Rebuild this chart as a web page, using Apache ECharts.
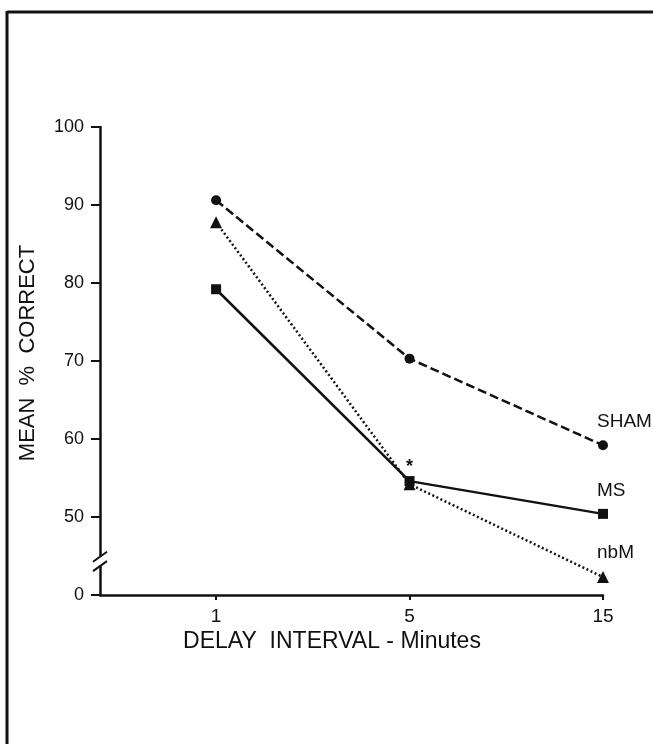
<!DOCTYPE html>
<html>
<head>
<meta charset="utf-8">
<script src="https://cdn.jsdelivr.net/npm/echarts@6/dist/echarts.min.js"></script>
<style>
  html, body { margin: 0; padding: 0; background: #fff; }
  #chart { width: 653px; height: 744px; }
</style>
</head>
<body>
<div id="chart"></div>
<script>
// delay intervals (minutes), plotted evenly spaced
const delays = ['1', '5', '15']
const groupNames = ['SHAM', 'MS', 'nbM']
// mean % correct per group
const shamValues = [90.6, 70.3, 59.2]
const msValues = [79.2, 54.6, 50.4]
const nbmValues = [87.8, 54.2, 42.3]
// y axis: broken between 0 and 40, bottom tick is labelled 0
const yTickValues = [40, 50, 60, 70, 80, 90, 100]
const yTickLabels = ['0', '50', '60', '70', '80', '90', '100']

const ink = '#111'
const font = '"Liberation Sans", Arial, sans-serif'

const chart = echarts.init(document.getElementById('chart'))

// last point gets the group name, MS at 5 min gets the asterisk
function makeData(values, name, starIndex) {
  return values.map((v, i) => {
    const item = { value: [i, v] }
    if (i === values.length - 1) {
      item.label = {
        show: true, formatter: name, position: 'top', align: 'left',
        offset: [-6, -4], fontSize: 19, color: ink, fontFamily: font
      }
    } else if (i === starIndex) {
      item.label = {
        show: true, formatter: '*', position: 'top', distance: 0,
        fontSize: 18, color: ink, fontFamily: font, fontWeight: 'bold'
      }
    }
    return item
  })
}

const option = {
  backgroundColor: '#fff',
  animation: false,
  grid: { left: 100, right: 50, top: 127, bottom: 149 },
  xAxis: {
    type: 'value',
    min: -0.6,
    max: 2,
    splitLine: { show: false },
    axisLine: { onZero: false, lineStyle: { color: ink, width: 2.5 } },
    axisTick: { customValues: [0, 1, 2], length: 5, lineStyle: { color: ink, width: 2 } },
    axisLabel: {
      customValues: [0, 1, 2], margin: 12, fontSize: 19, color: ink, fontFamily: font,
      formatter: v => delays[Math.round(v)]
    }
  },
  yAxis: {
    type: 'value',
    min: 40,
    max: 100,
    splitLine: { show: false },
    axisLine: { show: true, onZero: false, lineStyle: { color: ink, width: 2.5 } },
    axisTick: { customValues: yTickValues, length: 9, lineStyle: { color: ink, width: 2 } },
    axisLabel: {
      customValues: yTickValues, margin: 16, fontSize: 18, color: ink, fontFamily: font,
      formatter: v => yTickLabels[yTickValues.indexOf(v)]
    }
  },
  series: [
    {
      name: groupNames[0], type: 'line', data: makeData(shamValues, groupNames[0]),
      symbol: 'circle', symbolSize: 10,
      itemStyle: { color: ink },
      lineStyle: { color: ink, width: 2.5, type: [9, 4] }
    },
    {
      name: groupNames[1], type: 'line', data: makeData(msValues, groupNames[1], 1),
      symbol: 'rect', symbolSize: 10,
      itemStyle: { color: ink },
      lineStyle: { color: ink, width: 2.5 }
    },
    {
      name: groupNames[2], type: 'line', data: makeData(nbmValues, groupNames[2]),
      symbol: 'triangle', symbolSize: 12,
      itemStyle: { color: ink },
      lineStyle: { color: ink, width: 2.5, type: [2, 2.5] }
    }
  ]
}
chart.setOption(option)

// axis break marks, titles and the page frame
const pLow = chart.convertToPixel({ gridIndex: 0 }, [-0.6, 43.7])
const pHigh = chart.convertToPixel({ gridIndex: 0 }, [-0.6, 44.9])
const ax = pLow[0]
chart.setOption({
  graphic: [
    { type: 'rect', z: 100, shape: { x: ax - 3, y: pHigh[1], width: 6, height: pLow[1] - pHigh[1] }, style: { fill: '#fff' } },
    { type: 'line', z: 101, shape: { x1: ax - 7, y1: pHigh[1] + 5, x2: ax + 7, y2: pHigh[1] - 5 }, style: { stroke: ink, lineWidth: 2 } },
    { type: 'line', z: 101, shape: { x1: ax - 7, y1: pLow[1] + 5, x2: ax + 7, y2: pLow[1] - 5 }, style: { stroke: ink, lineWidth: 2 } },
    {
      type: 'text', z: 100, x: 28, y: 353, rotation: Math.PI / 2,
      style: { text: 'MEAN  %  CORRECT', fill: ink, fontSize: 22, fontFamily: font, align: 'center', verticalAlign: 'middle' }
    },
    {
      type: 'text', z: 100, x: 332, y: 642,
      style: { text: 'DELAY  INTERVAL - Minutes', fill: ink, fontSize: 23, fontFamily: font, align: 'center', verticalAlign: 'middle' }
    },
    { type: 'line', z: 100, shape: { x1: 7, y1: 12, x2: 653, y2: 12 }, style: { stroke: ink, lineWidth: 3 } },
    { type: 'line', z: 100, shape: { x1: 7, y1: 11, x2: 7, y2: 744 }, style: { stroke: ink, lineWidth: 3 } }
  ]
})
</script>
</body>
</html>
